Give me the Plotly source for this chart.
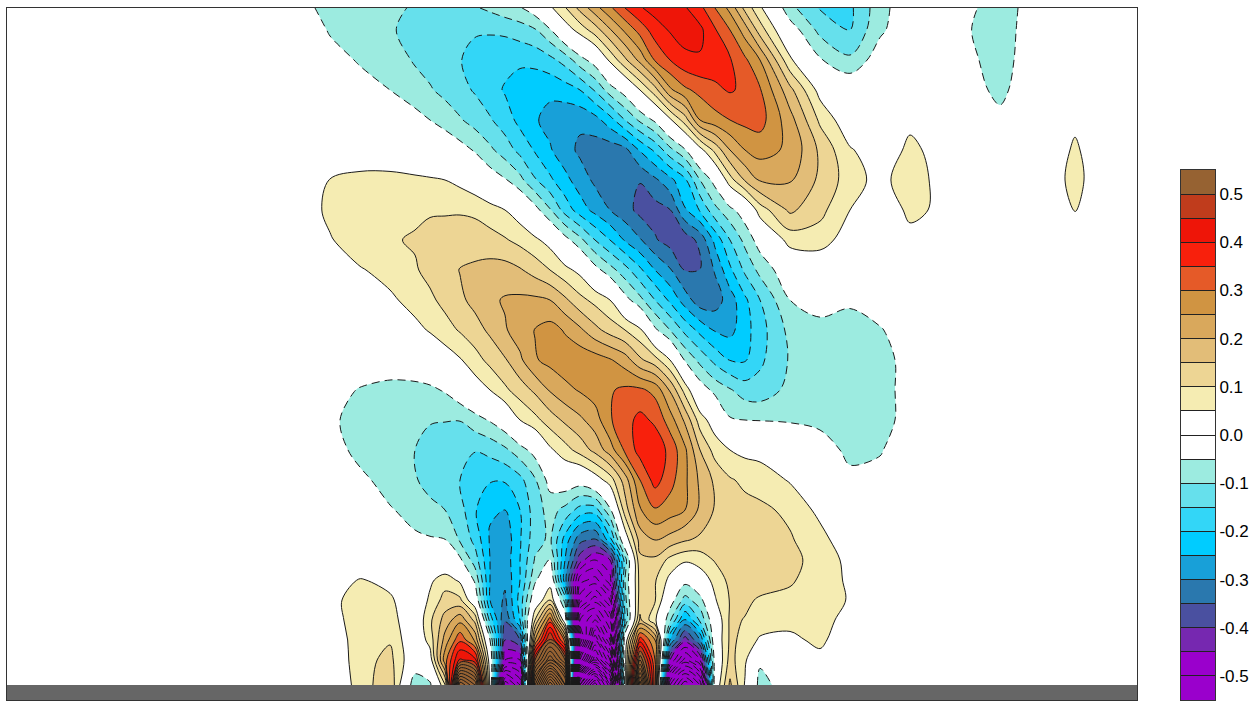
import plotly.graph_objects as go

# Reading positions of the sampled field (same units as the chart's plane)
x_pos = [300,330,360,390,415,430,445,460,475,490,505,520,535,550,565,580,595,610,625,640,655,670,685,700,715,730,745,760,790,820,850,880,910,940,970,1000,1030,1060,1075,1090]
y_pos = [8,30,60,90,120,150,180,210,240,270,300,330,360,390,420,450,480,510,540,560,580,600,620,640,660,685]

row_008 = [-.03,-.07,-.08,-.09,-.105,-.115,-.12,-.115,-.105,-.09,-.07,-.055,-.02,.04,.095,.165,.23,.29,.35,.395,.42,.43,.405,.365,.30,.235,.135,.06,-.085,-.155,-.16,-.07,-.01,0,-.04,-.08,-.03,0,0,0]
row_030 = [-.01,-.055,-.07,-.095,-.115,-.125,-.135,-.14,-.145,-.145,-.14,-.125,-.105,-.055,.02,.07,.125,.195,.26,.32,.375,.405,.425,.412,.355,.30,.225,.125,-.02,-.115,-.15,-.06,-.01,0,-.048,-.085,-.02,0,0,0]
row_060 = [0,-.03,-.055,-.075,-.105,-.12,-.135,-.148,-.165,-.175,-.185,-.19,-.185,-.165,-.13,-.07,-.025,.06,.14,.215,.305,.35,.385,.395,.375,.355,.31,.25,.06,-.045,-.09,-.02,0,0,-.035,-.085,-.01,0,0,0]
row_090 = [0,-.01,-.03,-.05,-.08,-.095,-.115,-.135,-.155,-.18,-.205,-.225,-.235,-.24,-.225,-.20,-.145,-.075,-.025,.05,.13,.24,.29,.315,.34,.355,.34,.305,.165,.03,0,0,0,0,-.02,-.07,0,0,0,0]
row_120 = [0,0,0,-.01,-.03,-.05,-.07,-.095,-.12,-.145,-.175,-.215,-.245,-.265,-.285,-.29,-.27,-.22,-.15,-.09,-.04,.04,.125,.25,.28,.30,.315,.32,.22,.09,.01,0,.04,0,0,-.03,0,0,.03,0]
row_150 = [0,0,0,0,0,0,-.01,-.03,-.055,-.09,-.125,-.165,-.205,-.245,-.28,-.31,-.325,-.33,-.315,-.245,-.19,-.115,-.055,.03,.115,.20,.25,.27,.24,.14,.055,.02,.06,.035,0,0,0,.02,.065,.02]
row_180 = [0,.052,.07,.07,.06,.055,.05,.035,.01,-.02,-.045,-.085,-.145,-.19,-.235,-.275,-.31,-.335,-.345,-.348,-.31,-.265,-.21,-.10,-.03,.08,.155,.205,.205,.14,.075,.03,.085,.03,0,0,0,.035,.08,.03]
row_210 = [.01,.065,.08,.085,.09,.095,.095,.095,.09,.07,.05,.02,-.03,-.095,-.17,-.225,-.265,-.30,-.33,-.365,-.37,-.352,-.255,-.195,-.115,-.065,-.02,.075,.16,.115,.05,0,.065,.04,0,0,0,.01,.055,0]
row_240 = [0,.045,.085,.095,.105,.115,.12,.125,.125,.12,.105,.085,.06,.03,-.03,-.085,-.15,-.20,-.255,-.295,-.345,-.37,-.38,-.335,-.235,-.15,-.085,-.025,.07,.075,.02,0,.03,.02,0,0,0,0,0,0]
row_270 = [0,0,.045,.07,.095,.115,.135,.152,.16,.168,.17,.155,.13,.10,.065,.035,-.03,-.08,-.13,-.19,-.25,-.295,-.352,-.352,-.295,-.21,-.14,-.085,-.01,0,0,0,0,0,0,0,0,0,0,0]
row_300 = [0,0,.01,.04,.07,.09,.115,.14,.165,.19,.205,.21,.21,.20,.16,.115,.085,.05,-.03,-.085,-.15,-.21,-.275,-.33,-.325,-.275,-.21,-.15,-.05,-.03,-.042,-.015,0,0,0,0,0,0,0,0]
row_330 = [0,0,0,.01,.035,.055,.08,.105,.13,.16,.195,.225,.252,.27,.245,.21,.165,.13,.10,.06,-.04,-.10,-.165,-.215,-.255,-.265,-.22,-.17,-.085,-.065,-.07,-.055,-.015,0,0,0,0,0,0,0]
row_360 = [0,0,0,0,0,0,.02,.045,.08,.115,.145,.19,.245,.265,.28,.285,.275,.255,.225,.16,.12,.05,-.055,-.115,-.165,-.202,-.205,-.16,-.095,-.085,-.08,-.07,-.03,0,0,0,0,0,0,0]
row_390 = [0,-.02,-.055,-.075,-.07,-.06,-.045,-.01,.02,.05,.09,.125,.16,.205,.235,.255,.275,.295,.31,.31,.285,.195,.08,-.02,-.065,-.095,-.125,-.13,-.085,-.085,-.08,-.065,-.035,0,0,0,0,0,0,0]
row_420 = [0,-.04,-.07,-.08,-.09,-.095,-.097,-.098,-.07,-.045,-.01,.05,.085,.125,.16,.19,.225,.295,.33,.365,.34,.275,.19,.075,.02,-.045,-.05,-.052,-.055,-.06,-.075,-.07,-.03,0,0,0,0,0,0,0]
row_450 = [0,-.02,-.07,-.08,-.10,-.125,-.14,-.147,-.148,-.135,-.11,-.07,-.03,.04,.08,.12,.165,.225,.31,.37,.385,.335,.26,.15,.08,.05,.035,.03,0,-.03,-.06,-.055,-.01,0,0,0,0,0,0,0]
row_480 = [0,0,-.035,-.075,-.095,-.12,-.14,-.15,-.175,-.195,-.195,-.165,-.105,-.03,-.01,-.02,.02,.075,.175,.30,.37,.32,.26,.19,.14,.105,.09,.08,.045,.01,-.04,-.03,0,0,0,0,0,0,0,0]
row_510 = [0,0,-.01,-.045,-.07,-.085,-.10,-.13,-.195,-.245,-.25,-.20,-.125,-.08,-.115,-.17,-.175,-.06,.125,.245,.295,.275,.25,.19,.145,.125,.115,.11,.09,.035,.005,0,0,0,0,0,0,0,0,0]
row_540 = [0,0,0,-.01,-.04,-.045,-.048,-.105,-.165,-.255,-.285,-.205,-.12,-.09,-.22,-.335,-.36,-.22,.01,.17,.2,.18,.155,.14,.135,.13,.125,.12,.105,.07,.01,0,0,0,0,0,0,0,0,0]
row_560 = [0,0,0,0,0,0,-.01,-.04,-.125,-.25,-.28,-.20,-.095,-.045,-.25,-.43,-.50,-.45,-.125,.14,.14,.085,.06,.07,.105,.125,.125,.125,.115,.08,.035,0,0,0,0,0,0,0,0,0]
row_580 = [0,0,.055,.03,0,.04,.075,.04,-.06,-.25,-.29,-.20,-.06,.02,-.28,-.58,-.62,-.52,-.10,.12,.105,.035,-.03,.02,.065,.115,.125,.12,.105,.08,.04,0,0,0,0,0,0,0,0,0]
row_600 = [0,.03,.08,.06,0,.06,.12,.11,0,-.25,-.31,-.18,0,.10,-.12,-.68,-.78,-.65,-.12,.125,.105,-.02,-.12,-.07,.045,.103,.108,.095,.09,.08,.045,0,0,0,0,0,0,0,0,0]
row_620 = [0,.02,.085,.075,0,.09,.17,.235,.135,-.17,-.345,-.2,.10,.33,0,-.85,-.95,-.8,-.15,.16,.06,-.09,-.26,-.14,0,.108,.098,.09,.07,.07,.03,0,0,0,0,0,0,0,0,0]
row_640 = [0,0,.085,.095,0,.07,.22,.34,.24,-.05,-.40,-.35,.25,.52,.28,-.75,-1.15,-.9,0,.38,.25,-.25,-.43,-.30,0,.108,.09,.04,.035,.065,0,0,0,0,0,0,0,0,0,0]
row_660 = [0,0,.08,.115,0,.02,.28,.46,.42,.01,-.5,-.5,.5,.75,.55,-1.0,-1.35,-1.1,.02,.6,.3,-.45,-.62,-.5,-.02,.12,.06,-.04,0,.03,0,0,0,0,0,0,0,0,0,0]
row_685 = [0,0,.07,.14,-.09,-.06,.09,.9,.75,.02,-.85,-.7,.8,1.2,.9,-1.6,-1.9,-1.5,0,.9,.3,-.75,-.95,-.8,0,.16,.045,-.07,-.02,0,0,0,0,0,0,0,0,0,0,0]

field = [row_008,row_030,row_060,row_090,row_120,row_150,row_180,row_210,row_240,row_270,row_300,row_330,
         row_360,row_390,row_420,row_450,row_480,row_510,row_540,row_560,row_580,row_600,row_620,row_640,row_660,row_685]

band_edges = [-.55,-.5,-.45,-.4,-.35,-.3,-.25,-.2,-.15,-.1,-.05,0,.05,.1,.15,.2,.25,.3,.35,.4,.45,.5,.55]
band_colors = ["#9a00cc","#9a00cc","#7628b0","#4a50a0","#2a78ae","#18a0d8","#00ccff","#33d6f7","#66e0ec","#9cebe0",
               "#ffffff","#ffffff","#f5ecb2","#edd594","#e2bd78","#d9a85c","#d09442","#e55a28","#f8200c","#ee1508","#c03c1c","#966232"]
fill_colors = [band_colors[0]] + band_colors + [band_colors[-1]]
fill_scale = [[i/(len(fill_colors)-1), c] for i, c in enumerate(fill_colors)]

n = len(band_colors)
bar_scale = []
for i, c in enumerate(band_colors):
    bar_scale += [[i/n, c], [(i+1)/n, c]]
bar_z = [[(band_edges[i]+band_edges[i+1])/2] for i in range(n)]

tick_text = ["" if round(v*100) % 10 else ("0.0" if abs(v) < .001 else "%.1f" % v) for v in band_edges]

SMOOTH = 1.0
LINE = "#1a1a1a"
fig = go.Figure()
fig.add_trace(go.Contour(
    x=x_pos, y=y_pos, z=field, autocontour=False, hoverinfo="skip", showscale=False,
    contours=dict(start=-0.55, end=0.55, size=0.05, coloring="fill", showlines=False),
    line=dict(width=0, smoothing=SMOOTH), colorscale=fill_scale,
))
fig.add_trace(go.Contour(
    x=x_pos, y=y_pos, z=field, autocontour=False, hoverinfo="skip", showscale=False,
    contours=dict(start=-2.5, end=-0.05, size=0.05, coloring="none"),
    line=dict(width=1, color=LINE, dash="8px,5px", smoothing=SMOOTH),
))
fig.add_trace(go.Contour(
    x=x_pos, y=y_pos, z=field, autocontour=False, hoverinfo="skip", showscale=False,
    contours=dict(start=0.05, end=2.5, size=0.05, coloring="none"),
    line=dict(width=1, color=LINE, smoothing=SMOOTH),
))
fig.add_trace(go.Heatmap(
    x=[0, 1], y=band_edges, z=bar_z, xaxis="x2", yaxis="y2", zmin=-.55, zmax=.55,
    colorscale=bar_scale, showscale=False, hoverinfo="skip",
))
fig.add_shape(type="rect", xref="x", yref="y", x0=7, x1=1137, y0=685, y1=700,
              fillcolor="#666666", line=dict(width=0), layer="above")
axis_common = dict(showgrid=False, zeroline=False, showline=True, mirror=True, linecolor="#333333", linewidth=1)
fig.update_layout(
    width=1252, height=701, margin=dict(l=0, r=0, t=0, b=0),
    paper_bgcolor="white", plot_bgcolor="white", showlegend=False,
    xaxis=dict(domain=[7/1252, 1137/1252], range=[7, 1137], showticklabels=False, ticks="", **axis_common),
    yaxis=dict(domain=[1/701, 693/701], range=[700, 8], showticklabels=False, ticks="", **axis_common),
    xaxis2=dict(domain=[1181/1252, 1215/1252], range=[0, 1], anchor="y2", showticklabels=False, ticks="", **axis_common),
    yaxis2=dict(domain=[1/701, 531/701], range=[-.55, .55], anchor="x2", side="right",
                tickmode="array", tickvals=band_edges, ticktext=tick_text,
                ticks="inside", ticklen=34, tickwidth=1, tickcolor="#222222",
                tickfont=dict(family="Liberation Sans", size=17, color="#000000"), **axis_common),
)
fig.write_html("out.html", config=dict(displayModeBar=False),
               post_script="document.body.style.margin='0';document.body.style.overflow='hidden';")
